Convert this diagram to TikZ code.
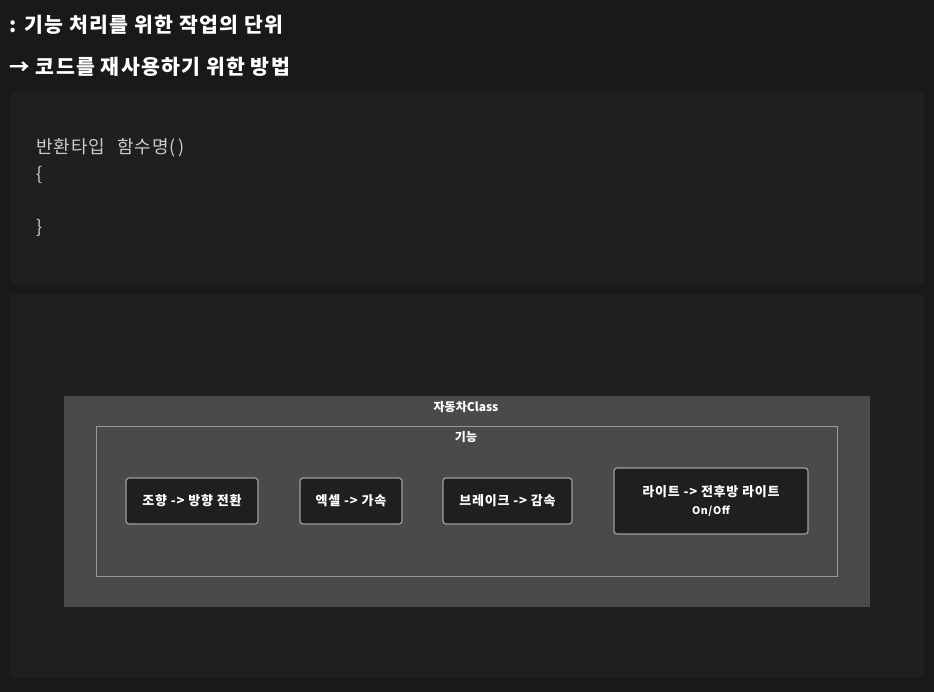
\documentclass[tikz,border=0pt]{standalone}
\usepackage{fontspec}
\setmainfont{Noto Sans CJK KR}
\definecolor{pagebg}{HTML}{191919}
\definecolor{panelbg}{HTML}{1F1F1F}
\definecolor{classbg}{HTML}{4A4A4A}
\definecolor{boxbg}{HTML}{1E1F1F}
\definecolor{codefg}{HTML}{CCCCCC}
\tikzset{
  panel/.style={fill=panelbg,draw=none,rounded corners=4pt},
  head/.style={anchor=west,text=white,font=\bfseries\fontsize{20.5}{24}\selectfont\addfontfeature{LetterSpace=6}},
  code/.style={anchor=west,text=codefg,font=\fontsize{18}{20}\selectfont\addfontfeature{LetterSpace=4}},
  func/.style={draw=gray!75,fill=boxbg,rounded corners=3pt,line width=1.2pt,
    text=white,font=\bfseries\fontsize{13}{15}\selectfont\addfontfeature{LetterSpace=6},align=center,inner sep=0pt},
  label/.style={text=white,font=\bfseries\fontsize{12}{14}\selectfont}
}
\begin{document}
\begin{tikzpicture}[x=1pt,y=-1pt]
\useasboundingbox[fill=pagebg] (0,0) rectangle (934,692);
\node[head] (title) at (6,25) {: 기능 처리를 위한 작업의 단위};
\node[head] (reuse) at (6,67) {→ 코드를 재사용하기 위한 방법};
% code panel
\fill[panel] (10,92) rectangle (924,284);
\node[code] (sig) at (33,148) {반환타입\hspace{0.7em}함수명(\,)};
\node[code] (open) at (33,175) {\{};
\node[code] (close) at (33,228) {\}};
% class panel
\fill[panel] (10,294) rectangle (924,678);
\filldraw[fill=classbg,draw=gray!60!black,line width=0.8pt] (64,396) rectangle (869,606);
\node[label] (cls) at (466,407) {자동차Class};
\draw[draw=gray!80,line width=0.8pt] (96,426) rectangle (837,576);
\node[label] (feat) at (466,437) {기능};
\node[func,minimum width=132pt,minimum height=46pt] (steer) at (192,501) {조향 -> 방향 전환};
\node[func,minimum width=102pt,minimum height=46pt] (accel) at (351,501) {엑셀 -> 가속};
\node[func,minimum width=129pt,minimum height=46pt] (brake) at (507.5,501) {브레이크 -> 감속};
\node[func,minimum width=194pt,minimum height=66pt] (light) at (711,501) {라이트 -> 전후방 라이트\\[3pt]{\fontsize{10.5}{12}\selectfont On/Off}};
\end{tikzpicture}
\end{document}
